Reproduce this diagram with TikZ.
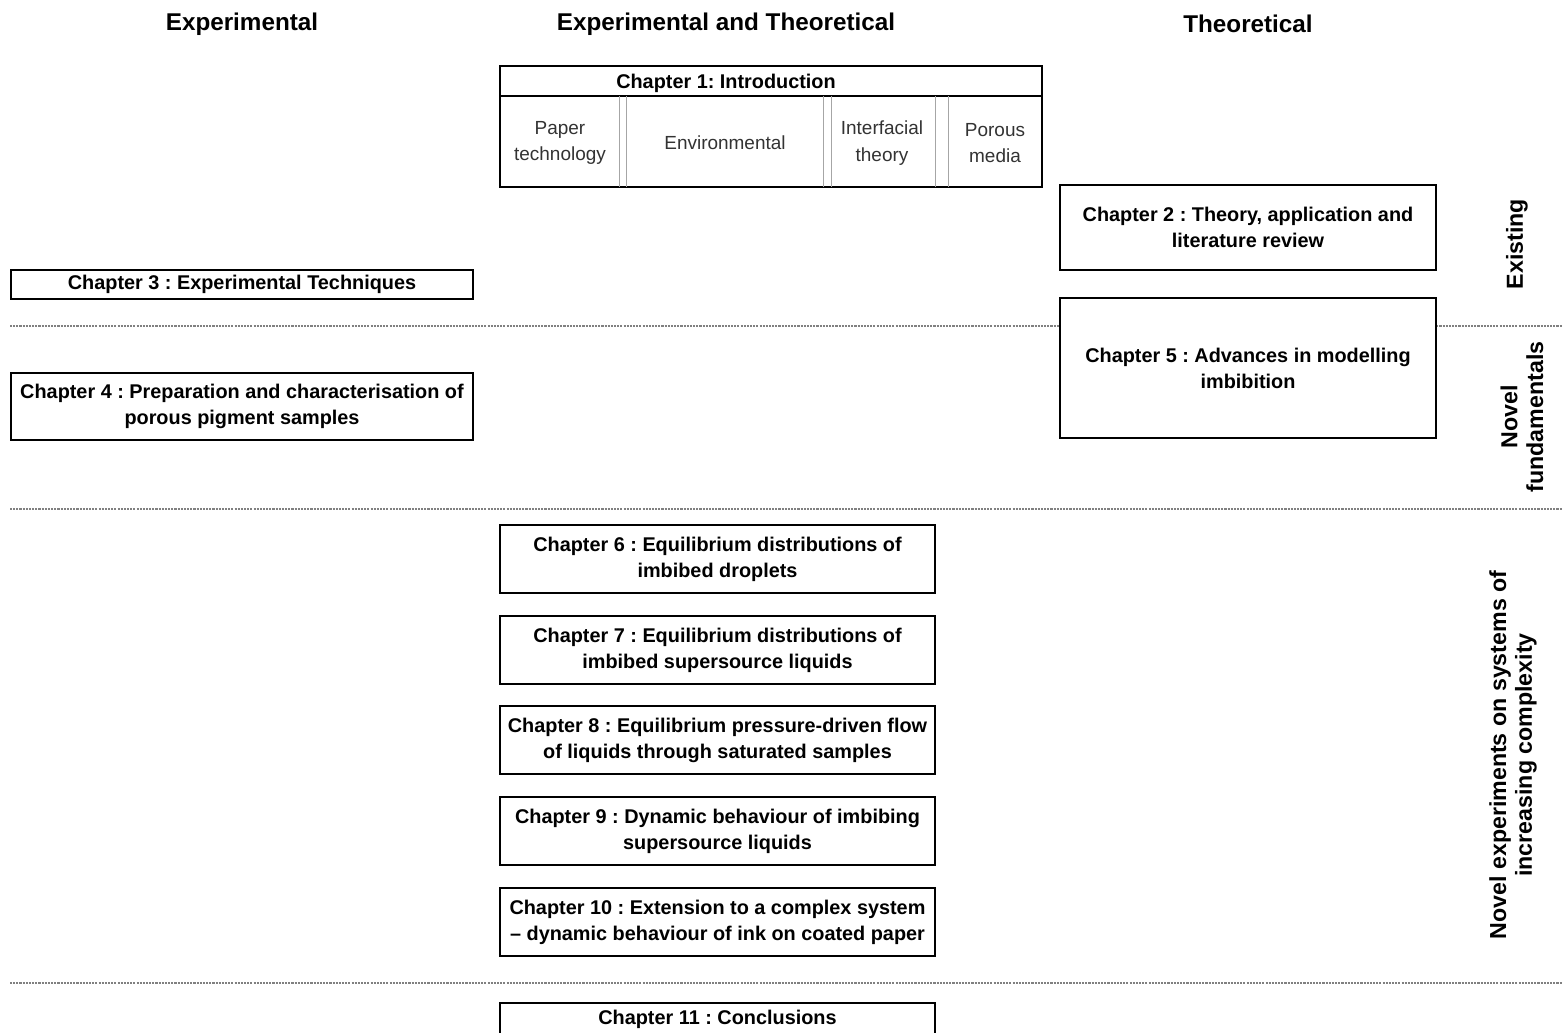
\documentclass[tikz,border=0pt]{standalone}
\usepackage{fontspec}
\setmainfont{Liberation Sans}
\usetikzlibrary{positioning}
\frenchspacing

\newcommand{\chapfont}{\fontsize{11.3}{14.8}\selectfont\bfseries}
\newcommand{\cellfont}{\fontsize{10.8}{15.2}\selectfont}
\newcommand{\colfont}{\fontsize{13.8}{16}\selectfont\bfseries}
\newcommand{\bandfont}{\fontsize{13.2}{14.6}\selectfont\bfseries}

\tikzset{
  chap/.style={rectangle, draw, line width=1.6pt, fill=white, align=center, font=\chapfont, inner sep=0pt},
  midchap/.style={chap, minimum width=8.7cm, minimum height=1.36cm},
  cell/.style={align=center, font=\cellfont, text=black!80},
  colhead/.style={font=\colfont},
  band/.style={rotate=90, align=center, font=\bandfont},
  bandline/.style={gray, line width=0.7pt, dash pattern=on 1.2pt off 0.6pt},
  divline/.style={gray!70, line width=0.5pt},
}

\begin{document}
\begin{tikzpicture}[x=0.02cm, y=-0.02cm]
\useasboundingbox (0,0) rectangle (1563,1032);
\clip (0,0) rectangle (1563,1032);

% column headings
\node[colhead](colexp) at (242,24){Experimental};
\node[colhead](colboth) at (726,24){Experimental and Theoretical};
\node[colhead](colthe) at (1248,24){Theoretical};

% band separators
\draw[bandline] (10,326) -- (1563,326);
\draw[bandline] (10,509) -- (1563,509);
\draw[bandline] (10,983) -- (1563,983);

% chapter 1 with its four parts
\node[chap, minimum width=10.84cm, minimum height=2.42cm](intro) at (771,126.5){};
\node[font=\chapfont](introhead) at (726,83){Chapter 1: Introduction};
\draw[line width=0.8pt] (500,96) -- (1042,96);
\foreach \xa in {619,626,823,831,935,948}
  \draw[divline] (\xa,96) -- (\xa,187);
\node[cell](paper) at (560,143){Paper\\technology};
\node[cell](env) at (725,143){Environmental};
\node[cell](interf) at (882,143){Interfacial\\theory};
\node[cell](porous) at (995,143){Porous\\media};

% left column
\node[chap, minimum width=9.24cm, minimum height=0.58cm](techniques) at (242,284.5){Chapter 3 : Experimental Techniques};
\node[chap, minimum width=9.24cm, minimum height=1.34cm](samples) at (242,406.5){Chapter 4 : Preparation and characterisation of\\porous pigment samples};

% right column
\node[chap, minimum width=7.52cm, minimum height=1.7cm](theory) at (1248,227.5){Chapter 2 : Theory, application and\\literature review};
\node[chap, minimum width=7.52cm, minimum height=2.8cm](modelling) at (1248,368){Chapter 5 : Advances in modelling\\imbibition};

% middle column
\node[midchap](droplets) at (717.5,559){Chapter 6 : Equilibrium distributions of\\imbibed droplets};
\node[midchap](supersource) at (717.5,650){Chapter 7 : Equilibrium distributions of\\imbibed supersource liquids};
\node[midchap](flow) at (717.5,740){Chapter 8 : Equilibrium pressure-driven flow\\of liquids through saturated samples};
\node[midchap](dynamic) at (717.5,831){Chapter 9 : Dynamic behaviour of imbibing\\supersource liquids};
\node[midchap](ink) at (717.5,922){Chapter 10 : Extension to a complex system\\-- dynamic behaviour of ink on coated paper};
\node[chap, minimum width=8.7cm, minimum height=0.64cm](concl) at (717.5,1019){Chapter 11 : Conclusions};

% band labels
\node[band](existing) at (1517,244){Existing};
\node[band](fundamentals) at (1522,417){Novel\\fundamentals};
\node[band](novelexp) at (1513,755){Novel experiments on systems of\\increasing complexity};

\end{tikzpicture}
\end{document}
